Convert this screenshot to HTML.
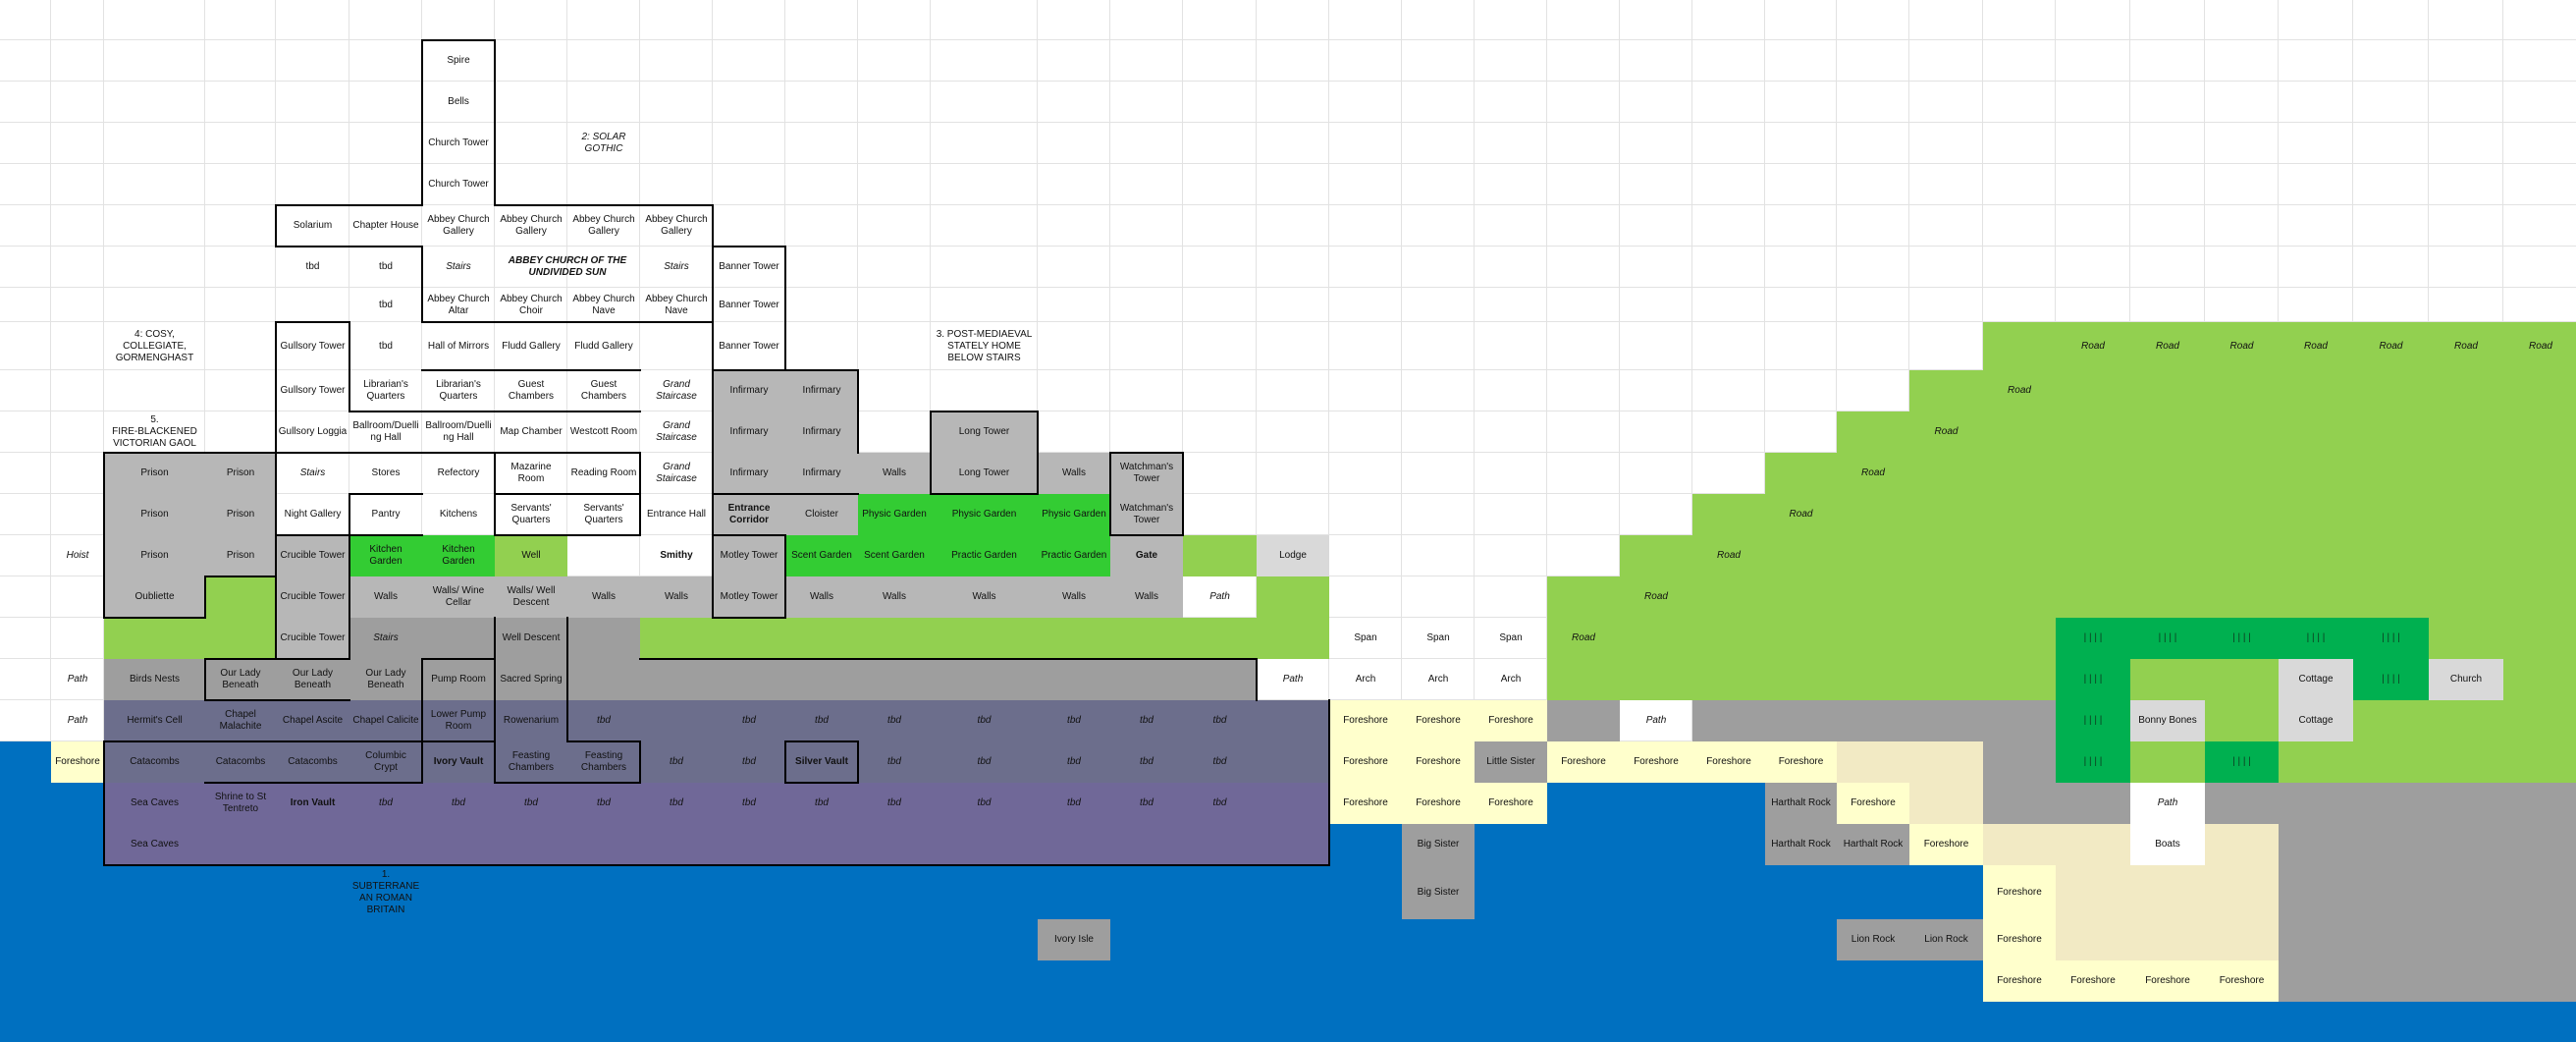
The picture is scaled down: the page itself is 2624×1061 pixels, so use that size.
<!DOCTYPE html>
<html><head><meta charset="utf-8"><style>
html,body{margin:0;padding:0}
body{width:2624px;height:1061px;overflow:hidden;position:relative;background:#fff}
svg{position:absolute;left:0;top:0}
.g0{position:absolute;left:0;top:0;width:2626px;height:1061px;display:grid;
grid-template-columns:52px 54px 103px 72px 75px 74px 74px 74px 74px 74px 74px 74px 74px 109px 74px 74px 75px 74px 74px 74px 74px 74px 74px 74px 73px 74px 75px 74px 76px 76px 75px 76px 77px 76px 76px;
grid-template-rows:41px 42px 42px 42px 42px 42px 42px 35px 49px 42px 42px 42px 42px 42px 42px 42px 42px 42px 42px 42px 42px 55px 42px 42px 41px;
font:10px/12px "Liberation Sans",Arial,sans-serif;color:#111}
.g0>div{display:flex;align-items:center;justify-content:center;text-align:center;white-space:nowrap;min-width:0}
.lg{background:#b7b7b7}.dg{background:#9e9e9e}.g{background:#92d050}.bg{background:#33cc33}.dk{background:#00b050}
.pa{background:#6c6e8c}.pb{background:#706898}.y{background:#ffffcc}.s{background:#f2eac4}.l{background:#d9d9d9}
.bl{background:#0070c0}.w{background:#fff}
.i{font-style:italic}.o{font-weight:bold}.k{color:#0e3a20}
</style></head><body>
<svg width="2624" height="1061"><path fill="none" stroke="#e2e2e2" stroke-width="1" d="M51.5 0V1061M105.5 0V1061M208.5 0V1061M280.5 0V1061M355.5 0V1061M429.5 0V1061M503.5 0V1061M577.5 0V1061M651.5 0V1061M725.5 0V1061M799.5 0V1061M873.5 0V1061M947.5 0V1061M1056.5 0V1061M1130.5 0V1061M1204.5 0V1061M1279.5 0V1061M1353.5 0V1061M1427.5 0V1061M1501.5 0V1061M1575.5 0V1061M1649.5 0V1061M1723.5 0V1061M1797.5 0V1061M1870.5 0V1061M1944.5 0V1061M2019.5 0V1061M2093.5 0V1061M2169.5 0V1061M2245.5 0V1061M2320.5 0V1061M2396.5 0V1061M2473.5 0V1061M2549.5 0V1061M0 40.5H2624M0 82.5H2624M0 124.5H2624M0 166.5H2624M0 208.5H2624M0 250.5H2624M0 292.5H2624M0 327.5H2624M0 376.5H2624M0 418.5H2624M0 460.5H2624M0 502.5H2624M0 544.5H2624M0 586.5H2624M0 628.5H2624M0 670.5H2624M0 712.5H2624M0 754.5H2624M0 796.5H2624M0 838.5H2624M0 880.5H2624M0 935.5H2624M0 977.5H2624M0 1019.5H2624"/></svg>
<div class="g0">
<!-- fills -->
<div class="bl" style="grid-area:19/1/26/2"></div>
<div class="bl" style="grid-area:20/2/26/36"></div>
<div class="pa" style="grid-area:18/3/20/19"></div>
<div class="pb" style="grid-area:20/3/22/19"></div>
<div class="y" style="grid-area:19/2/20/3"></div>
<div class="g" style="grid-area:9/28/10/36"></div>
<div class="g" style="grid-area:10/27/11/36"></div>
<div class="g" style="grid-area:11/26/12/36"></div>
<div class="g" style="grid-area:12/25/13/36"></div>
<div class="g" style="grid-area:13/24/14/36"></div>
<div class="g" style="grid-area:14/23/15/36"></div>
<div class="g" style="grid-area:15/22/16/36"></div>
<div class="g" style="grid-area:16/22/17/36"></div>
<div class="g" style="grid-area:17/22/18/36"></div>
<div class="lg" style="grid-area:12/3/16/4"></div>
<div class="lg" style="grid-area:12/4/15/5"></div>
<div class="g" style="grid-area:15/4/16/5"></div>
<div class="g" style="grid-area:16/3/17/5"></div>
<div class="lg" style="grid-area:14/5/17/6"></div>
<div class="bg" style="grid-area:14/6/15/8"></div>
<div class="g" style="grid-area:14/8/15/9"></div>
<div class="lg" style="grid-area:15/6/16/17"></div>
<div class="dg" style="grid-area:16/6/17/10"></div>
<div class="g" style="grid-area:16/10/17/19"></div>
<div class="dg" style="grid-area:17/3/18/18"></div>
<div class="lg" style="grid-area:10/11/14/13"></div>
<div class="lg" style="grid-area:14/11/16/12"></div>
<div class="bg" style="grid-area:14/12/15/16"></div>
<div class="lg" style="grid-area:14/16/15/17"></div>
<div class="g" style="grid-area:14/17/15/18"></div>
<div class="l" style="grid-area:14/18/15/19"></div>
<div class="g" style="grid-area:15/18/16/19"></div>
<div class="bg" style="grid-area:13/13/14/16"></div>
<div class="lg" style="grid-area:12/16/14/17"></div>
<div class="lg" style="grid-area:12/13/13/14"></div>
<div class="lg" style="grid-area:11/14/13/15"></div>
<div class="lg" style="grid-area:12/15/13/16"></div>
<div class="dk" style="grid-area:16/29/17/34"></div>
<div class="dk" style="grid-area:17/29/20/30"></div>
<div class="l" style="grid-area:17/32/19/33"></div>
<div class="dk" style="grid-area:17/33/18/34"></div>
<div class="l" style="grid-area:17/34/18/35"></div>
<div class="y" style="grid-area:18/19/19/22"></div>
<div class="dg" style="grid-area:18/22/19/23"></div>
<div class="dg" style="grid-area:18/24/19/29"></div>
<div class="l" style="grid-area:18/30/19/31"></div>
<div class="g" style="grid-area:18/31/19/32"></div>
<div class="g" style="grid-area:18/33/19/36"></div>
<div class="y" style="grid-area:19/19/20/21"></div>
<div class="dg" style="grid-area:19/21/20/22"></div>
<div class="y" style="grid-area:19/22/20/26"></div>
<div class="s" style="grid-area:19/26/20/28"></div>
<div class="dg" style="grid-area:19/28/20/29"></div>
<div class="g" style="grid-area:19/30/20/31"></div>
<div class="dk" style="grid-area:19/31/20/32"></div>
<div class="g" style="grid-area:19/32/20/36"></div>
<div class="y" style="grid-area:20/19/21/22"></div>
<div class="dg" style="grid-area:20/25/22/26"></div>
<div class="y" style="grid-area:20/26/21/27"></div>
<div class="s" style="grid-area:20/27/21/28"></div>
<div class="dg" style="grid-area:20/28/21/30"></div>
<div class="w" style="grid-area:20/30/22/31"></div>
<div class="dg" style="grid-area:20/31/21/36"></div>
<div class="dg" style="grid-area:21/20/23/21"></div>
<div class="dg" style="grid-area:21/26/22/27"></div>
<div class="y" style="grid-area:21/27/22/28"></div>
<div class="s" style="grid-area:21/28/22/30"></div>
<div class="s" style="grid-area:21/31/22/32"></div>
<div class="dg" style="grid-area:21/32/25/36"></div>
<div class="y" style="grid-area:22/28/24/29"></div>
<div class="s" style="grid-area:22/29/24/32"></div>
<div class="dg" style="grid-area:23/15/24/16"></div>
<div class="dg" style="grid-area:23/26/24/28"></div>
<div class="y" style="grid-area:24/28/25/32"></div>
<!-- labels -->
<div style="grid-area:2/7">Spire</div>
<div style="grid-area:3/7">Bells</div>
<div style="grid-area:4/7">Church Tower</div>
<div class="i" style="grid-area:4/9">2: SOLAR<br>GOTHIC</div>
<div style="grid-area:5/7">Church Tower</div>
<div style="grid-area:6/5">Solarium</div>
<div style="grid-area:6/6">Chapter House</div>
<div style="grid-area:6/7">Abbey Church<br>Gallery</div>
<div style="grid-area:6/8">Abbey Church<br>Gallery</div>
<div style="grid-area:6/9">Abbey Church<br>Gallery</div>
<div style="grid-area:6/10">Abbey Church<br>Gallery</div>
<div style="grid-area:7/5">tbd</div>
<div style="grid-area:7/6">tbd</div>
<div class="i" style="grid-area:7/7">Stairs</div>
<div class="i o" style="grid-area:7/8/8/10">ABBEY CHURCH OF THE<br>UNDIVIDED SUN</div>
<div class="i" style="grid-area:7/10">Stairs</div>
<div style="grid-area:7/11">Banner Tower</div>
<div style="grid-area:8/6">tbd</div>
<div style="grid-area:8/7">Abbey Church<br>Altar</div>
<div style="grid-area:8/8">Abbey Church<br>Choir</div>
<div style="grid-area:8/9">Abbey Church<br>Nave</div>
<div style="grid-area:8/10">Abbey Church<br>Nave</div>
<div style="grid-area:8/11">Banner Tower</div>
<div style="grid-area:9/3">4: COSY,<br>COLLEGIATE,<br>GORMENGHAST</div>
<div style="grid-area:9/5">Gullsory Tower</div>
<div style="grid-area:9/6">tbd</div>
<div style="grid-area:9/7">Hall of Mirrors</div>
<div style="grid-area:9/8">Fludd Gallery</div>
<div style="grid-area:9/9">Fludd Gallery</div>
<div style="grid-area:9/11">Banner Tower</div>
<div style="grid-area:9/14">3. POST-MEDIAEVAL<br>STATELY HOME<br>BELOW STAIRS</div>
<div class="i" style="grid-area:9/29">Road</div>
<div class="i" style="grid-area:9/30">Road</div>
<div class="i" style="grid-area:9/31">Road</div>
<div class="i" style="grid-area:9/32">Road</div>
<div class="i" style="grid-area:9/33">Road</div>
<div class="i" style="grid-area:9/34">Road</div>
<div class="i" style="grid-area:9/35">Road</div>
<div style="grid-area:10/5">Gullsory Tower</div>
<div style="grid-area:10/6">Librarian's<br>Quarters</div>
<div style="grid-area:10/7">Librarian's<br>Quarters</div>
<div style="grid-area:10/8">Guest<br>Chambers</div>
<div style="grid-area:10/9">Guest<br>Chambers</div>
<div class="i" style="grid-area:10/10">Grand<br>Staircase</div>
<div style="grid-area:10/11">Infirmary</div>
<div style="grid-area:10/12">Infirmary</div>
<div class="i" style="grid-area:10/28">Road</div>
<div style="grid-area:11/3">5.<br>FIRE-BLACKENED<br>VICTORIAN GAOL</div>
<div style="grid-area:11/5">Gullsory Loggia</div>
<div style="grid-area:11/6">Ballroom/Duelli<br>ng Hall</div>
<div style="grid-area:11/7">Ballroom/Duelli<br>ng Hall</div>
<div style="grid-area:11/8">Map Chamber</div>
<div style="grid-area:11/9">Westcott Room</div>
<div class="i" style="grid-area:11/10">Grand<br>Staircase</div>
<div style="grid-area:11/11">Infirmary</div>
<div style="grid-area:11/12">Infirmary</div>
<div style="grid-area:11/14">Long Tower</div>
<div class="i" style="grid-area:11/27">Road</div>
<div style="grid-area:12/3">Prison</div>
<div style="grid-area:12/4">Prison</div>
<div class="i" style="grid-area:12/5">Stairs</div>
<div style="grid-area:12/6">Stores</div>
<div style="grid-area:12/7">Refectory</div>
<div style="grid-area:12/8">Mazarine<br>Room</div>
<div style="grid-area:12/9">Reading Room</div>
<div class="i" style="grid-area:12/10">Grand<br>Staircase</div>
<div style="grid-area:12/11">Infirmary</div>
<div style="grid-area:12/12">Infirmary</div>
<div style="grid-area:12/13">Walls</div>
<div style="grid-area:12/14">Long Tower</div>
<div style="grid-area:12/15">Walls</div>
<div style="grid-area:12/16">Watchman's<br>Tower</div>
<div class="i" style="grid-area:12/26">Road</div>
<div style="grid-area:13/3">Prison</div>
<div style="grid-area:13/4">Prison</div>
<div style="grid-area:13/5">Night Gallery</div>
<div style="grid-area:13/6">Pantry</div>
<div style="grid-area:13/7">Kitchens</div>
<div style="grid-area:13/8">Servants'<br>Quarters</div>
<div style="grid-area:13/9">Servants'<br>Quarters</div>
<div style="grid-area:13/10">Entrance Hall</div>
<div class="o" style="grid-area:13/11">Entrance<br>Corridor</div>
<div style="grid-area:13/12">Cloister</div>
<div style="grid-area:13/13">Physic Garden</div>
<div style="grid-area:13/14">Physic Garden</div>
<div style="grid-area:13/15">Physic Garden</div>
<div style="grid-area:13/16">Watchman's<br>Tower</div>
<div class="i" style="grid-area:13/25">Road</div>
<div class="i" style="grid-area:14/2">Hoist</div>
<div style="grid-area:14/3">Prison</div>
<div style="grid-area:14/4">Prison</div>
<div style="grid-area:14/5">Crucible Tower</div>
<div style="grid-area:14/6">Kitchen<br>Garden</div>
<div style="grid-area:14/7">Kitchen<br>Garden</div>
<div style="grid-area:14/8">Well</div>
<div class="o" style="grid-area:14/10">Smithy</div>
<div style="grid-area:14/11">Motley Tower</div>
<div style="grid-area:14/12">Scent Garden</div>
<div style="grid-area:14/13">Scent Garden</div>
<div style="grid-area:14/14">Practic Garden</div>
<div style="grid-area:14/15">Practic Garden</div>
<div class="o" style="grid-area:14/16">Gate</div>
<div style="grid-area:14/18">Lodge</div>
<div class="i" style="grid-area:14/24">Road</div>
<div style="grid-area:15/3">Oubliette</div>
<div style="grid-area:15/5">Crucible Tower</div>
<div style="grid-area:15/6">Walls</div>
<div style="grid-area:15/7">Walls/ Wine<br>Cellar</div>
<div style="grid-area:15/8">Walls/ Well<br>Descent</div>
<div style="grid-area:15/9">Walls</div>
<div style="grid-area:15/10">Walls</div>
<div style="grid-area:15/11">Motley Tower</div>
<div style="grid-area:15/12">Walls</div>
<div style="grid-area:15/13">Walls</div>
<div style="grid-area:15/14">Walls</div>
<div style="grid-area:15/15">Walls</div>
<div style="grid-area:15/16">Walls</div>
<div class="i" style="grid-area:15/17">Path</div>
<div class="i" style="grid-area:15/23">Road</div>
<div style="grid-area:16/5">Crucible Tower</div>
<div class="i" style="grid-area:16/6">Stairs</div>
<div style="grid-area:16/8">Well Descent</div>
<div style="grid-area:16/19">Span</div>
<div style="grid-area:16/20">Span</div>
<div style="grid-area:16/21">Span</div>
<div class="i" style="grid-area:16/22">Road</div>
<div class="k" style="grid-area:16/29">| | | |</div>
<div class="k" style="grid-area:16/30">| | | |</div>
<div class="k" style="grid-area:16/31">| | | |</div>
<div class="k" style="grid-area:16/32">| | | |</div>
<div class="k" style="grid-area:16/33">| | | |</div>
<div class="i" style="grid-area:17/2">Path</div>
<div style="grid-area:17/3">Birds Nests</div>
<div style="grid-area:17/4">Our Lady<br>Beneath</div>
<div style="grid-area:17/5">Our Lady<br>Beneath</div>
<div style="grid-area:17/6">Our Lady<br>Beneath</div>
<div style="grid-area:17/7">Pump Room</div>
<div style="grid-area:17/8">Sacred Spring</div>
<div class="i" style="grid-area:17/18">Path</div>
<div style="grid-area:17/19">Arch</div>
<div style="grid-area:17/20">Arch</div>
<div style="grid-area:17/21">Arch</div>
<div class="k" style="grid-area:17/29">| | | |</div>
<div style="grid-area:17/32">Cottage</div>
<div class="k" style="grid-area:17/33">| | | |</div>
<div style="grid-area:17/34">Church</div>
<div class="i" style="grid-area:18/2">Path</div>
<div style="grid-area:18/3">Hermit's Cell</div>
<div style="grid-area:18/4">Chapel<br>Malachite</div>
<div style="grid-area:18/5">Chapel Ascite</div>
<div style="grid-area:18/6">Chapel Calicite</div>
<div style="grid-area:18/7">Lower Pump<br>Room</div>
<div style="grid-area:18/8">Rowenarium</div>
<div class="i" style="grid-area:18/9">tbd</div>
<div class="i" style="grid-area:18/11">tbd</div>
<div class="i" style="grid-area:18/12">tbd</div>
<div class="i" style="grid-area:18/13">tbd</div>
<div class="i" style="grid-area:18/14">tbd</div>
<div class="i" style="grid-area:18/15">tbd</div>
<div class="i" style="grid-area:18/16">tbd</div>
<div class="i" style="grid-area:18/17">tbd</div>
<div style="grid-area:18/19">Foreshore</div>
<div style="grid-area:18/20">Foreshore</div>
<div style="grid-area:18/21">Foreshore</div>
<div class="i" style="grid-area:18/23">Path</div>
<div class="k" style="grid-area:18/29">| | | |</div>
<div style="grid-area:18/30">Bonny Bones</div>
<div style="grid-area:18/32">Cottage</div>
<div style="grid-area:19/2">Foreshore</div>
<div style="grid-area:19/3">Catacombs</div>
<div style="grid-area:19/4">Catacombs</div>
<div style="grid-area:19/5">Catacombs</div>
<div style="grid-area:19/6">Columbic<br>Crypt</div>
<div class="o" style="grid-area:19/7">Ivory Vault</div>
<div style="grid-area:19/8">Feasting<br>Chambers</div>
<div style="grid-area:19/9">Feasting<br>Chambers</div>
<div class="i" style="grid-area:19/10">tbd</div>
<div class="i" style="grid-area:19/11">tbd</div>
<div class="o" style="grid-area:19/12">Silver Vault</div>
<div class="i" style="grid-area:19/13">tbd</div>
<div class="i" style="grid-area:19/14">tbd</div>
<div class="i" style="grid-area:19/15">tbd</div>
<div class="i" style="grid-area:19/16">tbd</div>
<div class="i" style="grid-area:19/17">tbd</div>
<div style="grid-area:19/19">Foreshore</div>
<div style="grid-area:19/20">Foreshore</div>
<div style="grid-area:19/21">Little Sister</div>
<div style="grid-area:19/22">Foreshore</div>
<div style="grid-area:19/23">Foreshore</div>
<div style="grid-area:19/24">Foreshore</div>
<div style="grid-area:19/25">Foreshore</div>
<div class="k" style="grid-area:19/29">| | | |</div>
<div class="k" style="grid-area:19/31">| | | |</div>
<div style="grid-area:20/3">Sea Caves</div>
<div style="grid-area:20/4">Shrine to St<br>Tentreto</div>
<div class="o" style="grid-area:20/5">Iron Vault</div>
<div class="i" style="grid-area:20/6">tbd</div>
<div class="i" style="grid-area:20/7">tbd</div>
<div class="i" style="grid-area:20/8">tbd</div>
<div class="i" style="grid-area:20/9">tbd</div>
<div class="i" style="grid-area:20/10">tbd</div>
<div class="i" style="grid-area:20/11">tbd</div>
<div class="i" style="grid-area:20/12">tbd</div>
<div class="i" style="grid-area:20/13">tbd</div>
<div class="i" style="grid-area:20/14">tbd</div>
<div class="i" style="grid-area:20/15">tbd</div>
<div class="i" style="grid-area:20/16">tbd</div>
<div class="i" style="grid-area:20/17">tbd</div>
<div style="grid-area:20/19">Foreshore</div>
<div style="grid-area:20/20">Foreshore</div>
<div style="grid-area:20/21">Foreshore</div>
<div style="grid-area:20/25">Harthalt Rock</div>
<div style="grid-area:20/26">Foreshore</div>
<div class="i" style="grid-area:20/30">Path</div>
<div style="grid-area:21/3">Sea Caves</div>
<div style="grid-area:21/20">Big Sister</div>
<div style="grid-area:21/25">Harthalt Rock</div>
<div style="grid-area:21/26">Harthalt Rock</div>
<div style="grid-area:21/27">Foreshore</div>
<div style="grid-area:21/30">Boats</div>
<div style="grid-area:22/6">1.<br>SUBTERRANE<br>AN ROMAN<br>BRITAIN</div>
<div style="grid-area:22/20">Big Sister</div>
<div style="grid-area:22/28">Foreshore</div>
<div style="grid-area:23/15">Ivory Isle</div>
<div style="grid-area:23/26">Lion Rock</div>
<div style="grid-area:23/27">Lion Rock</div>
<div style="grid-area:23/28">Foreshore</div>
<div style="grid-area:24/28">Foreshore</div>
<div style="grid-area:24/29">Foreshore</div>
<div style="grid-area:24/30">Foreshore</div>
<div style="grid-area:24/31">Foreshore</div>
</div>
<svg width="2624" height="1061"><path fill="none" stroke="#000" stroke-width="2" stroke-linecap="square" d="M430 41H504V209H726V328H430V251H281V209H430Z
M726 251H800V377H726Z
M430 377H652
M281 328H356V419
M281 328V671
M356 419H652
M106 461H652
M652 461V545
M504 461V545
M504 503H652
M504 545H652
M356 503H430
M356 503V545
M281 545H430
M356 545V671
M209 671H356
M106 461V629H209V587H281
M209 671V713H356
M430 671H504
M430 671V797
M504 629V797
M430 755H504
M578 629V755
M578 755H652V797H504
M652 671H1280V713
M106 755H430
M209 797H430
M106 755V881H1354V713
M800 755H874V797H800Z
M726 377H874V461
M726 503H874
M726 251V629
M726 545H800V629H726
M948 419H1057V503H948Z
M1131 461H1205V545H1131Z"/></svg>
</body></html>
